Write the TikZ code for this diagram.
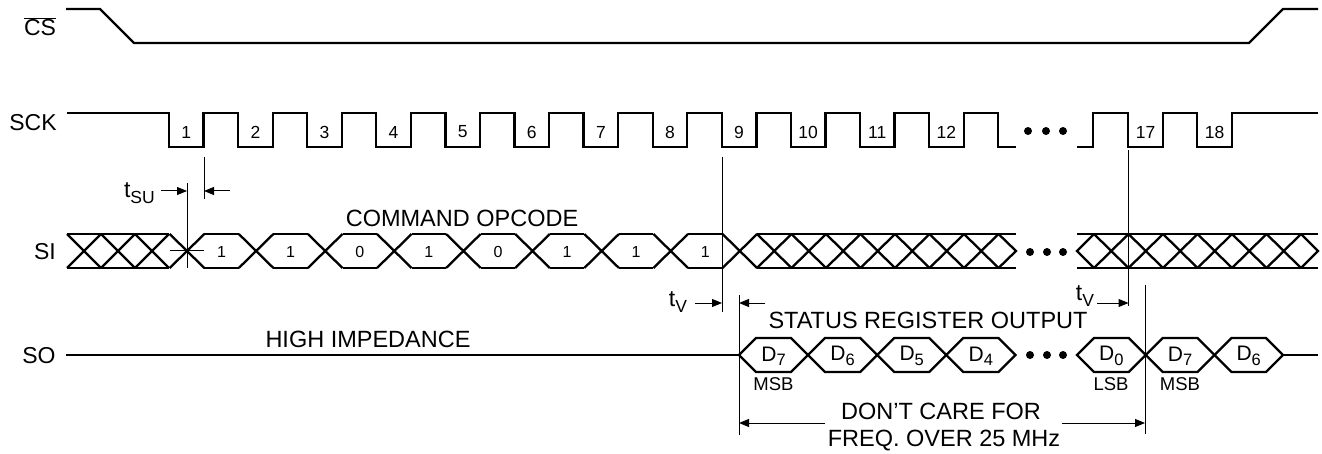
\documentclass[tikz,border=0pt]{standalone}
\usepackage{fontspec}
\setmainfont{Liberation Sans}
\usetikzlibrary{arrows.meta}
\begin{document}
\begin{tikzpicture}[x=1pt,y=-1pt,
  sig/.style={line width=2.3pt, line join=miter},
  hair/.style={line width=1pt},
  arr/.style={line width=1pt,-{Triangle[length=10pt,width=8pt]}},
  lbl/.style={font=\fontsize{23}{25}\selectfont, inner sep=0pt},
  txt/.style={font=\fontsize{23.5}{26}\selectfont, inner sep=0pt},
  num/.style={font=\fontsize{17.5}{19}\selectfont, inner sep=0pt},
  bit/.style={font=\fontsize{16}{18}\selectfont, inner sep=0pt},
  dlbl/.style={font=\fontsize{21}{23}\selectfont, inner sep=0pt},
  small/.style={font=\fontsize{18.5}{20}\selectfont, inner sep=0pt}]
\useasboundingbox (0,0) rectangle (1322,454);

% ---------- labels ----------
\node[lbl] (cslbl) at (40,27) {$\overline{\hbox{CS}}$};
\node[lbl] (scklbl) at (33,123) {SCK};
\node[lbl] (silbl) at (45,252) {SI};
\node[lbl] (solbl) at (39,356) {SO};

% ---------- CS ----------
\draw[sig] (66,9) -- (100,9) -- (134,43) -- (1249,43) -- (1283,9) -- (1318,9);

% ---------- SCK ----------
\draw[sig] (67,113) foreach \n in {1,...,12} {
   -- ({169+69.1*(\n-1)},113) -- ++(0,34) -- ++(34.6,0) -- ++(0,-34) }
   -- (998,113) -- (998,147) -- (1016,147);
\draw[sig] (1077,147) -- (1093,147) -- (1093,113) -- (1128,113) -- (1128,147)
   -- (1163,147) -- (1163,113) -- (1197,113) -- (1197,147) -- (1232,147)
   -- (1232,113) -- (1318,113);
\foreach \n in {1,...,12} {
  \node[num] (ck\n) at ({169+69.1*(\n-1)+17.3},132) {\n};
}
\node[num] (ck17) at (1145.5,132) {17};
\node[num] (ck18) at (1214.5,132) {18};
\foreach \x in {1028,1046,1063} { \fill (\x,131) circle (4pt); }

% ---------- SI ----------
% left hatch
\draw[sig] (67,234) -- (169,234) (67,268) -- (169,268);
\foreach \k in {0,1,2} {
  \draw[sig] ({67+34*\k},234) -- ({67+34*(\k+1)},268)
             ({67+34*\k},268) -- ({67+34*(\k+1)},234);
}
% crossings of the opcode bits
\foreach \k in {0,...,8} {
  \draw[sig] ({187+69.1*\k-17.3},234) -- ({187+69.1*\k+17.3},268)
             ({187+69.1*\k-17.3},268) -- ({187+69.1*\k+17.3},234);
}
\foreach \k in {0,...,7} {
  \draw[sig] ({187+69.1*\k+17.3},234) -- ({187+69.1*(\k+1)-17.3},234)
             ({187+69.1*\k+17.3},268) -- ({187+69.1*(\k+1)-17.3},268);
}
\foreach \b [count=\k from 0] in {1,1,0,1,0,1,1,1} {
  \node[bit] (bit\k) at ({187+69.1*\k+34.55},252) {\b};
}
% middle hatch
\draw[sig] (757,234) -- (1016,234) (757,268) -- (1016,268);
\foreach \k in {0,...,6} {
  \draw[sig] ({757+34.5*\k},234) -- ({757+34.5*(\k+1)},268)
             ({757+34.5*\k},268) -- ({757+34.5*(\k+1)},234);
}
\draw[sig] (998.5,234) -- (1016,251) -- (998.5,268);
% right hatch
\draw[sig] (1077,234) -- (1318,234) (1077,268) -- (1318,268);
\draw[sig] (1094,234) -- (1077,251) -- (1094,268);
\foreach \k in {0,...,5} {
  \draw[sig] ({1094+34.5*\k},234) -- ({1094+34.5*(\k+1)},268)
             ({1094+34.5*\k},268) -- ({1094+34.5*(\k+1)},234);
}
\draw[sig] (1301,234) -- (1318,251) -- (1301,268);
\foreach \x in {1030,1047,1063} { \fill (\x,252) circle (4pt); }
\node[txt] (opcode) at (462,218) {COMMAND OPCODE};

% ---------- SO ----------
\draw[sig] (66,355) -- (739,355);
\foreach \k in {0,...,3} {
  \draw[sig] ({739+69.1*\k},355) -- ({739+69.1*\k+17},338) -- ({739+69.1*(\k+1)-17},338)
     -- ({739+69.1*(\k+1)},355) -- ({739+69.1*(\k+1)-17},372) -- ({739+69.1*\k+17},372) -- cycle;
}
\foreach \k in {0,...,2} {
  \draw[sig] ({1077+68.7*\k},355) -- ({1077+68.7*\k+17},338) -- ({1077+68.7*(\k+1)-17},338)
     -- ({1077+68.7*(\k+1)},355) -- ({1077+68.7*(\k+1)-17},372) -- ({1077+68.7*\k+17},372) -- cycle;
}
\draw[sig] (1283,355) -- (1318,355);
\foreach \x in {1030,1047,1063} { \fill (\x,355) circle (4pt); }
\newcommand{\dsub}[2]{#1\raisebox{-0.4ex}{\fontsize{16.5}{16.5}\selectfont #2}}
\node[dlbl] (d7a) at (773.5,356) {\dsub{D}{7}};
\node[dlbl] (d6a) at (842.6,356) {\dsub{D}{6}};
\node[dlbl] (d5a) at (911.7,356) {\dsub{D}{5}};
\node[dlbl] (d4a) at (980.8,356) {\dsub{D}{4}};
\node[dlbl] (d0)  at (1111.3,356) {\dsub{D}{0}};
\node[dlbl] (d7b) at (1180,356) {\dsub{D}{7}};
\node[dlbl] (d6b) at (1248.7,356) {\dsub{D}{6}};
\node[small] (msba) at (773.5,384) {MSB};
\node[small] (lsb)  at (1111,384) {LSB};
\node[small] (msbb) at (1180,384) {MSB};
\node[txt] (hiz) at (368,339) {HIGH IMPEDANCE};
\node[txt] (sro) at (928,320) {STATUS REGISTER OUTPUT};
\node[txt] (dc1) at (941,411) {DON’T CARE FOR};
\node[txt] (dc2) at (944,441) {FREQ. OVER 25 MHz};

% ---------- timing marks ----------
% tSU
\coordinate (suA) at (187,183); \coordinate (suB) at (187,268);
\coordinate (suC) at (204,157); \coordinate (suD) at (204,199);
\draw[hair] (suA) -- (suB);
\draw[hair] (suC) -- (suD);
\coordinate (tickL) at (170,251); \coordinate (tickR) at (204,251);
\draw[hair] (tickL) -- (tickR);
\coordinate (suArrL) at (161,191); \coordinate (suArrLe) at (187,191);
\coordinate (suArrR) at (230,191); \coordinate (suArrRe) at (204,191);
\draw[arr] (suArrL) -- (suArrLe);
\draw[arr] (suArrR) -- (suArrRe);
\node[lbl, anchor=east] (tsu) at (155,193) {t\raisebox{-0.45ex}{\fontsize{17.5}{17.5}\selectfont SU}};

% tV left
\coordinate (vA) at (722,157); \coordinate (vB) at (722,312);
\coordinate (vC) at (739,295); \coordinate (vD) at (739,435);
\draw[hair] (vA) -- (vB);
\draw[hair] (vC) -- (vD);
\coordinate (tvArrL) at (695,303); \coordinate (tvArrLe) at (722,303);
\coordinate (tvArrR) at (765,303); \coordinate (tvArrRe) at (739,303);
\draw[arr] (tvArrL) -- (tvArrLe);
\draw[arr] (tvArrR) -- (tvArrRe);
\node[lbl] (tv1) at (678,302) {t\raisebox{-0.45ex}{\fontsize{17.5}{17.5}\selectfont V}};

% tV right
\coordinate (wA) at (1128.5,150); \coordinate (wB) at (1128.5,306);
\coordinate (wC) at (1145,285); \coordinate (wD) at (1145,434);
\draw[hair] (wA) -- (wB);
\draw[hair] (wC) -- (wD);
\coordinate (tv2Arr) at (1097,303); \coordinate (tv2Arre) at (1128.5,303);
\draw[arr] (tv2Arr) -- (tv2Arre);
\node[lbl] (tv2) at (1085,296) {t\raisebox{-0.45ex}{\fontsize{17.5}{17.5}\selectfont V}};

% don't care arrows
\coordinate (dcL) at (825,423); \coordinate (dcR) at (1062,423);
\draw[arr] (dcL) -- (vD |- dcL);
\draw[arr] (dcR) -- (wD |- dcR);
\end{tikzpicture}
\end{document}
